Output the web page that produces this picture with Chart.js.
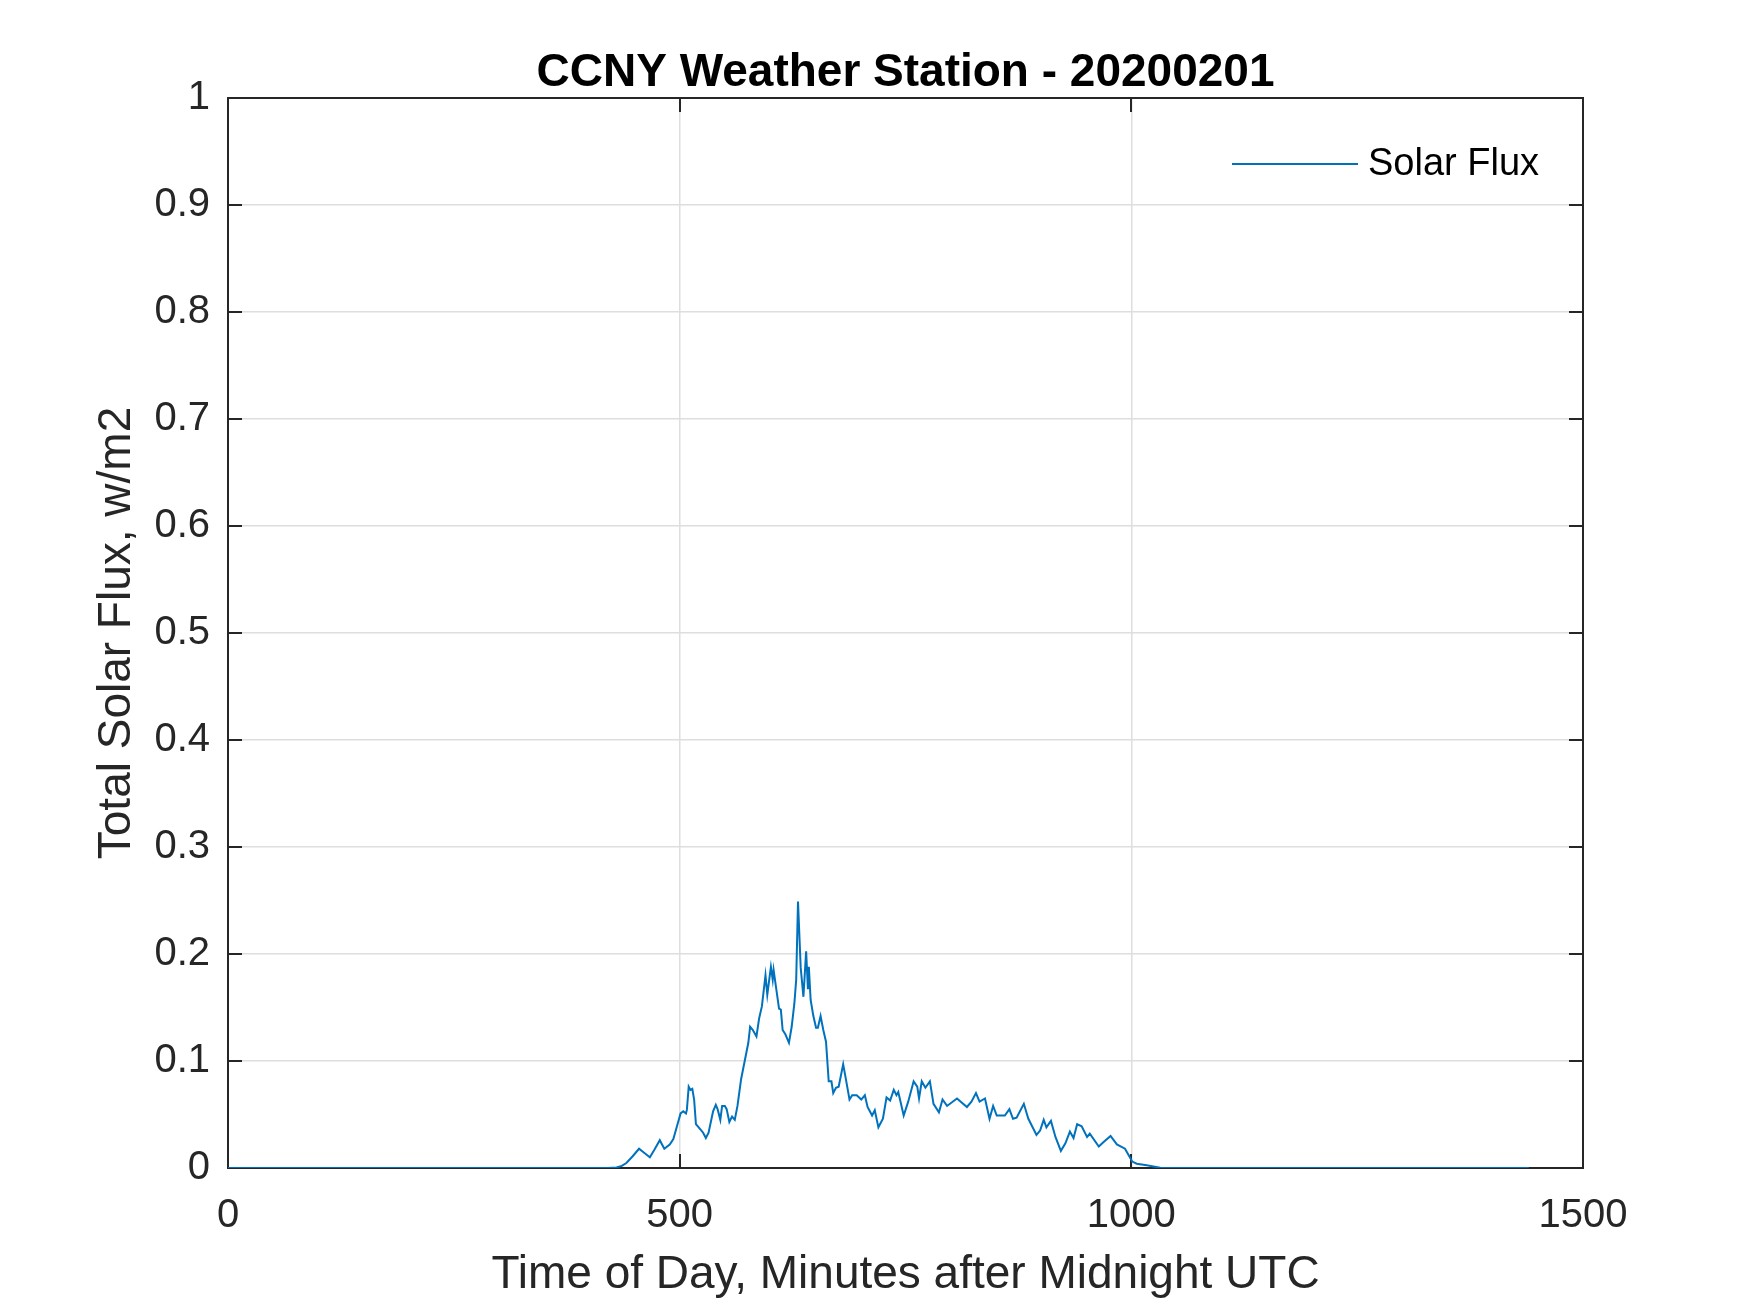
<!DOCTYPE html>
<html><head><meta charset="utf-8">
<script src="https://cdn.jsdelivr.net/npm/chart.js@4.4.0/dist/chart.umd.min.js"></script>
<style>html,body{margin:0;padding:0;background:#fff}canvas{display:block}</style>
</head><body>
<canvas id="c" width="1750" height="1313" style="width:1750px;height:1313px"></canvas>
<script>
const titleText = 'CCNY Weather Station - 20200201';
const xLabel = 'Time of Day, Minutes after Midnight UTC';
const yLabel = 'Total Solar Flux, w/m2';
const seriesName = 'Solar Flux';
const xTicks = [0, 500, 1000, 1500];
const yTicks = [0, 0.1, 0.2, 0.3, 0.4, 0.5, 0.6, 0.7, 0.8, 0.9, 1];
const yTickLabels = ['0', '0.1', '0.2', '0.3', '0.4', '0.5', '0.6', '0.7', '0.8', '0.9', '1'];

const minutes = [0, 420, 430, 436, 441, 448, 455, 461, 467, 472, 478, 483, 489, 493, 497, 501, 504, 507, 508, 510, 512, 514, 516, 518, 522, 526, 529, 532, 537, 540, 542, 545, 547, 550, 552, 555, 558, 561, 564, 568, 572, 576, 578, 581, 585, 588, 591, 595, 597, 601, 603, 604, 607, 610, 612, 614, 617, 621, 624, 627, 629, 631, 634, 637, 640, 642, 643, 645, 648, 651, 653, 656, 659, 662, 665, 668, 670, 673, 676, 681, 684, 688, 691, 696, 701, 705, 708, 713, 716, 720, 725, 729, 733, 737, 740, 742, 748, 753, 759, 763, 765, 768, 772, 777, 781, 787, 791, 796, 807, 818, 823, 828, 832, 838, 843, 847, 851, 860, 865, 869, 873, 881, 886, 895, 899, 903, 906, 911, 916, 922, 927, 932, 936, 940, 945, 951, 954, 964, 969, 977, 984, 993, 1001, 1006, 1017, 1032, 1045, 1440];
const solarFlux = [0, 0, 0.0005, 0.002, 0.0047, 0.011, 0.018, 0.014, 0.010, 0.017, 0.026, 0.018, 0.022, 0.027, 0.039, 0.051, 0.053, 0.051, 0.0545, 0.076, 0.073, 0.074, 0.064, 0.041, 0.037, 0.033, 0.028, 0.033, 0.053, 0.059, 0.055, 0.045, 0.058, 0.058, 0.055, 0.043, 0.048, 0.045, 0.058, 0.083, 0.100, 0.117, 0.132, 0.129, 0.123, 0.140, 0.151, 0.180, 0.162, 0.188, 0.176, 0.185, 0.167, 0.149, 0.148, 0.129, 0.125, 0.117, 0.132, 0.154, 0.176, 0.249, 0.187, 0.160, 0.2025, 0.167, 0.188, 0.157, 0.142, 0.131, 0.131, 0.142, 0.129, 0.118, 0.081, 0.081, 0.070, 0.075, 0.076, 0.097, 0.083, 0.064, 0.068, 0.068, 0.064, 0.068, 0.057, 0.049, 0.054, 0.038, 0.046, 0.066, 0.063, 0.073, 0.068, 0.071, 0.049, 0.062, 0.081, 0.076, 0.065, 0.081, 0.075, 0.081, 0.060, 0.052, 0.064, 0.058, 0.065, 0.057, 0.062, 0.070, 0.062, 0.065, 0.046, 0.058, 0.049, 0.049, 0.055, 0.046, 0.047, 0.060, 0.046, 0.031, 0.035, 0.045, 0.038, 0.044, 0.029, 0.016, 0.023, 0.034, 0.028, 0.041, 0.039, 0.029, 0.032, 0.020, 0.024, 0.030, 0.022, 0.018, 0.006, 0.004, 0.0025, 0.0003, 0, 0];

const FONT = "'Liberation Sans', Arial, Helvetica, sans-serif";
const AXIS_COLOR = '#262626';
const LINE_COLOR = '#0072BD';

const boxAndTicks = {
  id: 'boxAndTicks',
  beforeDatasetsDraw(chart) {
    const {ctx, chartArea: a, scales: {x, y}} = chart;
    const L = 14;
    ctx.save();
    ctx.strokeStyle = AXIS_COLOR;
    ctx.lineWidth = 2;
    ctx.beginPath();
    xTicks.forEach(v => {
      const px = Math.round(x.getPixelForValue(v));
      ctx.moveTo(px, a.bottom); ctx.lineTo(px, a.bottom - L);
      ctx.moveTo(px, a.top); ctx.lineTo(px, a.top + L);
    });
    yTicks.forEach(v => {
      const py = Math.round(y.getPixelForValue(v));
      ctx.moveTo(a.left, py); ctx.lineTo(a.left + L, py);
      ctx.moveTo(a.right, py); ctx.lineTo(a.right - L, py);
    });
    ctx.stroke();
    ctx.strokeRect(a.left, a.top, a.right - a.left, a.bottom - a.top);
    ctx.restore();
  }
};

const insideLegend = {
  id: 'insideLegend',
  afterDraw(chart) {
    const {ctx, chartArea: a} = chart;
    const ds = chart.data.datasets[0];
    const yMid = a.top + 66;
    const x0 = a.right - 351, x1 = a.right - 225;
    ctx.save();
    ctx.strokeStyle = ds.borderColor;
    ctx.lineWidth = 2;
    ctx.beginPath();
    ctx.moveTo(x0, yMid); ctx.lineTo(x1, yMid);
    ctx.stroke();
    ctx.fillStyle = '#000';
    ctx.font = '38px ' + FONT;
    ctx.textAlign = 'left';
    ctx.textBaseline = 'middle';
    ctx.fillText(ds.label, a.right - 215, yMid + 1);
    ctx.restore();
  }
};

new Chart(document.getElementById('c'), {
  type: 'line',
  data: {
    datasets: [{
      label: seriesName,
      data: minutes.map((m, i) => ({x: m, y: solarFlux[i]})),
      borderColor: LINE_COLOR,
      backgroundColor: LINE_COLOR,
      borderWidth: 2,
      pointRadius: 0,
      tension: 0,
      fill: false
    }]
  },
  options: {
    responsive: false,
    devicePixelRatio: 1,
    animation: false,
    layout: {padding: {left: 0, right: 167, top: 0, bottom: 0}},
    plugins: {
      legend: {display: false},
      tooltip: {enabled: false},
      title: {
        display: true,
        fullSize: false,
        text: titleText,
        color: '#000',
        font: {family: FONT, size: 46, weight: 'bold', lineHeight: 1},
        padding: {top: 50, bottom: 2}
      }
    },
    scales: {
      x: {
        type: 'linear',
        min: 0, max: 1500,
        afterFit(s) { s.height = 145; },
        afterBuildTicks(s) { s.ticks = xTicks.map(v => ({value: v})); },
        ticks: {color: AXIS_COLOR, font: {family: FONT, size: 40}, padding: 24, maxRotation: 0,
                callback: v => String(v)},
        grid: {color: '#dedede', lineWidth: 1.5, drawTicks: false},
        border: {display: false},
        title: {display: true, text: xLabel, color: AXIS_COLOR, font: {family: FONT, size: 46},
                padding: {top: 0, bottom: 10}}
      },
      y: {
        type: 'linear',
        min: 0, max: 1,
        afterFit(s) { s.width = 228; },
        afterBuildTicks(s) { s.ticks = yTicks.map(v => ({value: v})); },
        ticks: {color: AXIS_COLOR, font: {family: FONT, size: 40}, padding: 18,
                callback: (v) => yTickLabels[yTicks.indexOf(v)]},
        grid: {color: '#dedede', lineWidth: 1.5, drawTicks: false},
        border: {display: false},
        title: {display: true, text: yLabel, color: AXIS_COLOR, font: {family: FONT, size: 46},
                padding: {top: 90, bottom: 0}}
      }
    }
  },
  plugins: [boxAndTicks, insideLegend]
});
</script>
</body></html>
